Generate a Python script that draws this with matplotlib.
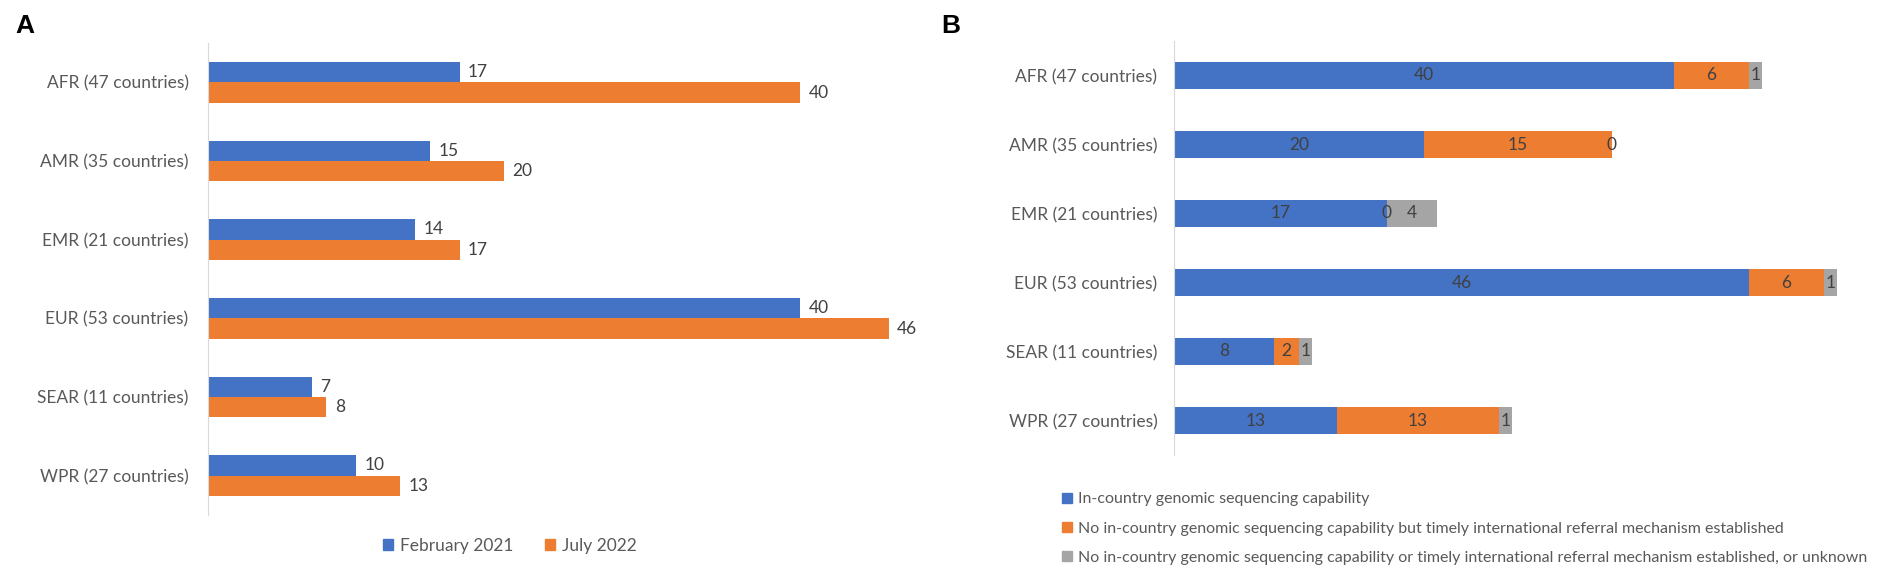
import matplotlib
matplotlib.use('Agg')
import matplotlib.pyplot as plt
from matplotlib.patches import Patch
import numpy as np

# ---- data ----
regions = ['AFR (47 countries)', 'AMR (35 countries)', 'EMR (21 countries)',
           'EUR (53 countries)', 'SEAR (11 countries)', 'WPR (27 countries)']
feb_2021 = [17, 15, 14, 40, 7, 10]
jul_2022 = [40, 20, 17, 46, 8, 13]

in_country = [40, 20, 17, 46, 8, 13]
referral = [6, 15, 0, 6, 2, 13]
unknown = [1, 0, 4, 1, 1, 1]

series_a = ['February 2021', 'July 2022']
series_b = ['In-country genomic sequencing capability',
            'No in-country genomic sequencing capability but timely international referral mechanism established',
            'No in-country genomic sequencing capability or timely international referral mechanism established, or unknown']

BLUE = '#4472C4'
ORANGE = '#ED7D31'
GREY = '#A5A5A5'
TXT = '#595959'
LBL = '#404040'
FS = 12.5

plt.rcParams['font.family'] = ['Lato', 'DejaVu Sans']

W, H = 1901, 576
fig = plt.figure(figsize=(W / 100, H / 100), dpi=100)

def frac(left, top, right, bottom):
    return [left / W, 1 - bottom / H, (right - left) / W, (bottom - top) / H]

# ---- panel A ----
axA = fig.add_axes(frac(208, 43, 208 + 14.8 * 50, 515))
y = np.arange(len(regions))
h = 0.26
axA.barh(y - h / 2, feb_2021, height=h, color=BLUE)
axA.barh(y + h / 2, jul_2022, height=h, color=ORANGE)
for yi, v in zip(y, feb_2021):
    axA.annotate(str(v), (v, yi - h / 2), xytext=(6, 0), textcoords='offset points',
                 va='center', ha='left', fontsize=FS, color=LBL)
for yi, v in zip(y, jul_2022):
    axA.annotate(str(v), (v, yi + h / 2), xytext=(6, 0), textcoords='offset points',
                 va='center', ha='left', fontsize=FS, color=LBL)
axA.set_xlim(0, 50)
axA.set_ylim(len(regions) - 0.5, -0.5)
axA.set_yticks(y)
axA.set_yticklabels(regions, fontsize=FS, color=TXT)
axA.tick_params(axis='y', length=0, pad=14)
axA.set_xticks([])
for s in ['top', 'right', 'bottom']:
    axA.spines[s].set_visible(False)
axA.spines['left'].set_color('#D9D9D9')

fig.legend(handles=[Patch(color=BLUE), Patch(color=ORANGE)], labels=series_a,
           loc='center', bbox_to_anchor=(510 / W, 1 - 546 / H), ncol=2,
           frameon=False, fontsize=FS, labelcolor=TXT,
           handlelength=0.6, handleheight=0.6, handletextpad=0.4, columnspacing=1.8)

# ---- panel B ----
axB = fig.add_axes(frac(1174, 41, 1174 + 12.5 * 55, 455))
hb = 0.39
left = np.zeros(len(regions))
for vals, col in zip([in_country, referral, unknown], [BLUE, ORANGE, GREY]):
    axB.barh(y, vals, left=left, height=hb, color=col)
    for yi, l, v in zip(y, left, vals):
        axB.text(l + v / 2, yi, str(v), ha='center', va='center', fontsize=FS, color=LBL)
    left = left + np.array(vals)
axB.set_xlim(0, 55)
axB.set_ylim(len(regions) - 0.5, -0.5)
axB.set_yticks(y)
axB.set_yticklabels(regions, fontsize=FS, color=TXT)
axB.tick_params(axis='y', length=0, pad=12)
axB.set_xticks([])
for s in ['top', 'right', 'bottom']:
    axB.spines[s].set_visible(False)
axB.spines['left'].set_color('#D9D9D9')

fig.legend(handles=[Patch(color=BLUE), Patch(color=ORANGE), Patch(color=GREY)],
           labels=series_b, loc='upper left', bbox_to_anchor=(1048 / W, 1 - 478 / H),
           ncol=1, frameon=False, fontsize=11.5, labelcolor=TXT,
           handlelength=0.6, handleheight=0.6, handletextpad=0.35, labelspacing=0.95)

# panel letters
fig.text(15 / W, 1 - 26 / H, 'A', fontsize=19, fontweight='bold', va='center',
         family=['Liberation Sans', 'DejaVu Sans'])
fig.text(941 / W, 1 - 26 / H, 'B', fontsize=19, fontweight='bold', va='center',
         family=['Liberation Sans', 'DejaVu Sans'])

fig.savefig('out.png', dpi=100)
